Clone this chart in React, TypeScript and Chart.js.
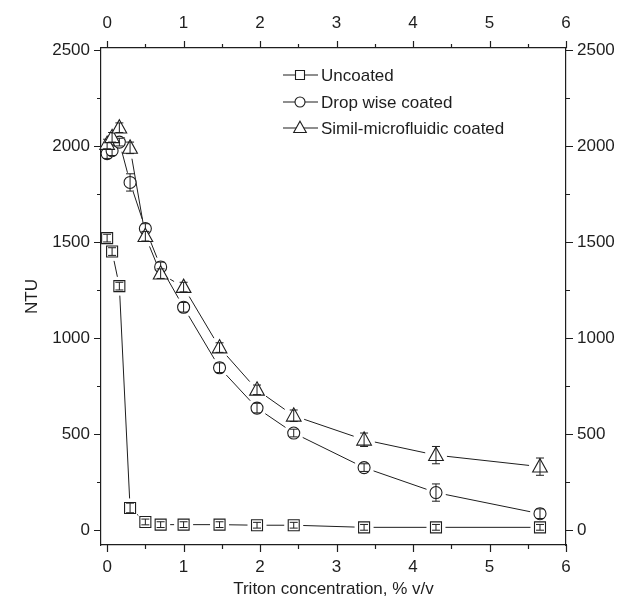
import React, { useEffect, useRef } from 'react';
import { Chart, registerables } from 'chart.js';
Chart.register(...registerables);

const xValues = [0, 0.065, 0.16, 0.3, 0.5, 0.7, 1.0, 1.47, 1.96, 2.44, 3.36, 4.3, 5.66];
const uncoated = [1520, 1450, 1270, 115, 42, 28, 28, 28, 25, 25, 14, 14, 14];
const uncoatedErr = [20, 20, 20, 25, 15, 15, 15, 15, 15, 15, 15, 15, 15];
const dropWise = [1960, 1975, 2020, 1810, 1570, 1370, 1160, 845, 635, 505, 325, 195, 85];
const dropWiseErr = [25, 25, 20, 45, 25, 25, 25, 25, 25, 20, 20, 45, 25];
const simil = [2010, 2045, 2095, 1990, 1530, 1335, 1265, 950, 730, 595, 470, 390, 330];
const similErr = [25, 25, 25, 30, 25, 25, 25, 25, 25, 30, 35, 45, 45];
const seriesNames = ['Uncoated', 'Drop wise coated', 'Simil-microfluidic coated'];
const xTicks = [0, 1, 2, 3, 4, 5, 6];
const yTicks = [0, 500, 1000, 1500, 2000, 2500];
const xTitle = 'Triton concentration, % v/v';
const yTitle = 'NTU';

const INK = '#1e1e1e';
const FONT = '"Liberation Sans", Arial, sans-serif';

function drawMarker(ctx: CanvasRenderingContext2D, style: string, x: number, y: number, s: number) {
  ctx.beginPath();
  if (style === 'rect') {
    ctx.rect(x - s, y - s, 2 * s, 2 * s);
  } else if (style === 'circle') {
    ctx.arc(x, y, s, 0, Math.PI * 2);
  } else {
    const h = s * 1.9;
    ctx.moveTo(x, y - h * 0.6);
    ctx.lineTo(x + s * 1.05, y + h * 0.4);
    ctx.lineTo(x - s * 1.05, y + h * 0.4);
    ctx.closePath();
  }
  ctx.fillStyle = '#fff';
  ctx.fill();
  ctx.strokeStyle = INK;
  ctx.lineWidth = 1.1;
  ctx.stroke();
}

const styles = ['rect', 'circle', 'triangle'];
const sizes = [5.5, 6, 7];
const errs = [uncoatedErr, dropWiseErr, similErr];

const gapLinesPlugin = {
  id: 'gapLines',
  beforeDatasetsDraw(chart: any) {
    const ctx = chart.ctx;
    const xs = chart.scales.x;
    const ys = chart.scales.y;
    ctx.save();
    ctx.strokeStyle = INK;
    ctx.lineWidth = 1;
    chart.data.datasets.forEach((ds: any, di: number) => {
      const gap = sizes[di] + 4;
      for (let i = 0; i < ds.data.length - 1; i++) {
        const a = ds.data[i], b = ds.data[i + 1];
        const x1 = xs.getPixelForValue(a.x), y1 = ys.getPixelForValue(a.y);
        const x2 = xs.getPixelForValue(b.x), y2 = ys.getPixelForValue(b.y);
        const dx = x2 - x1, dy = y2 - y1;
        const len = Math.hypot(dx, dy);
        if (len <= 2 * gap) continue;
        const ux = dx / len, uy = dy / len;
        ctx.beginPath();
        ctx.moveTo(x1 + ux * gap, y1 + uy * gap);
        ctx.lineTo(x2 - ux * gap, y2 - uy * gap);
        ctx.stroke();
      }
    });
    ctx.restore();
  },
  afterDatasetsDraw(chart: any) {
    const ctx = chart.ctx;
    const xs = chart.scales.x;
    const ys = chart.scales.y;
    ctx.save();
    chart.data.datasets.forEach((ds: any, di: number) => {
      ds.data.forEach((p: any, i: number) => {
        const px = xs.getPixelForValue(p.x);
        const py = ys.getPixelForValue(p.y);
        drawMarker(ctx, styles[di], px, py, sizes[di]);
        const e = errs[di][i];
        const top = ys.getPixelForValue(p.y + e);
        const bot = ys.getPixelForValue(p.y - e);
        ctx.strokeStyle = INK;
        ctx.lineWidth = 1;
        ctx.beginPath();
        ctx.moveTo(px, top);
        ctx.lineTo(px, bot);
        ctx.moveTo(px - 4, top);
        ctx.lineTo(px + 4, top);
        ctx.moveTo(px - 4, bot);
        ctx.lineTo(px + 4, bot);
        ctx.stroke();
      });
    });
    ctx.restore();
  },
};

const decorPlugin = {
  id: 'decor',
  afterDraw(chart: any) {
    const ctx = chart.ctx;
    const { left, right, top, bottom } = chart.chartArea;
    const xs = chart.scales.x;
    const ys = chart.scales.y;
    ctx.save();
    ctx.strokeStyle = INK;
    ctx.lineWidth = 1.2;
    ctx.beginPath();
    for (let v = 0; v <= 6.001; v += 0.5) {
      const px = Math.round(xs.getPixelForValue(v)) + 0.5;
      const L = Math.abs(v - Math.round(v)) < 1e-6 ? 7 : 4;
      ctx.moveTo(px, bottom);
      ctx.lineTo(px, bottom + L);
      ctx.moveTo(px, top);
      ctx.lineTo(px, top - L);
    }
    for (let v = 0; v <= 2500; v += 250) {
      const py = Math.round(ys.getPixelForValue(v)) + 0.5;
      const L = v % 500 === 0 ? 7 : 4;
      ctx.moveTo(left, py);
      ctx.lineTo(left - L, py);
      ctx.moveTo(right, py);
      ctx.lineTo(right + L, py);
    }
    ctx.stroke();

    // titles
    ctx.fillStyle = INK;
    ctx.font = `17px ${FONT}`;
    ctx.textAlign = 'center';
    ctx.textBaseline = 'middle';
    ctx.fillText(xTitle, (left + right) / 2, 589);
    ctx.save();
    ctx.translate(32, (top + bottom) / 2);
    ctx.rotate(-Math.PI / 2);
    ctx.fillText(yTitle, 0, 0);
    ctx.restore();

    // legend
    const ly = [75, 102, 128];
    const lsz = [4.5, 5, 6];
    seriesNames.forEach((name, i) => {
      const y = ly[i];
      ctx.strokeStyle = INK;
      ctx.lineWidth = 1.1;
      ctx.beginPath();
      ctx.moveTo(283, y);
      ctx.lineTo(318, y);
      ctx.stroke();
      drawMarker(ctx, styles[i], 300, y, lsz[i]);
      ctx.fillStyle = INK;
      ctx.textAlign = 'left';
      ctx.textBaseline = 'middle';
      ctx.fillText(name, 321, y + 1);
    });
    ctx.restore();
  },
};

function pts(ys: number[]) {
  return xValues.map((x, i) => ({ x, y: ys[i] }));
}

export default function App() {
  const ref = useRef<HTMLCanvasElement | null>(null);
  useEffect(() => {
    if (!ref.current) return;
    const tickFont = { family: FONT, size: 17 };
    const fmt = (v: any) => String(v);
    const setX = (s: any) => { s.ticks = xTicks.map((v) => ({ value: v })); };
    const setY = (s: any) => { s.ticks = yTicks.map((v) => ({ value: v })); };
    const chart = new Chart(ref.current, {
      type: 'scatter',
      data: {
        datasets: [
          { label: seriesNames[0], data: pts(uncoated), pointRadius: 0, showLine: false },
          { label: seriesNames[1], data: pts(dropWise), pointRadius: 0, showLine: false },
          { label: seriesNames[2], data: pts(simil), pointRadius: 0, showLine: false },
        ],
      },
      options: {
        animation: false,
        responsive: true,
        maintainAspectRatio: false,
        layout: { padding: 0 },
        plugins: { legend: { display: false }, tooltip: { enabled: false } },
        scales: {
          x: {
            type: 'linear', position: 'bottom', min: -0.08, max: 6.0,
            afterBuildTicks: setX,
            afterFit: (s: any) => { s.height = 57; },
            grid: { display: false, drawTicks: false },
            border: { display: true, color: INK, width: 1.2 },
            ticks: { font: tickFont, color: INK, padding: 12, maxRotation: 0, autoSkip: false, callback: fmt },
          },
          x2: {
            type: 'linear', position: 'top', min: -0.08, max: 6.0,
            afterBuildTicks: setX,
            afterFit: (s: any) => { s.height = 48; },
            grid: { display: false, drawTicks: false },
            border: { display: true, color: INK, width: 1.2 },
            ticks: { font: tickFont, color: INK, padding: 14, maxRotation: 0, autoSkip: false, callback: fmt },
          },
          y: {
            type: 'linear', position: 'left', min: -78, max: 2510,
            afterBuildTicks: setY,
            afterFit: (s: any) => { s.width = 101; },
            grid: { display: false, drawTicks: false },
            border: { display: true, color: INK, width: 1.2 },
            ticks: { font: tickFont, color: INK, padding: 11, autoSkip: false, callback: fmt },
          },
          y2: {
            type: 'linear', position: 'right', min: -78, max: 2510,
            afterBuildTicks: setY,
            afterFit: (s: any) => { s.width = 55; },
            grid: { display: false, drawTicks: false },
            border: { display: true, color: INK, width: 1.2 },
            ticks: { font: tickFont, color: INK, padding: 11, autoSkip: false, callback: fmt },
          },
        },
      } as any,
      plugins: [gapLinesPlugin, decorPlugin],
    });
    return () => chart.destroy();
  }, []);
  return (
    <div style={{ position: 'fixed', left: 0, top: 0, width: 621, height: 602, background: '#fff' }}>
      <canvas ref={ref} />
    </div>
  );
}
